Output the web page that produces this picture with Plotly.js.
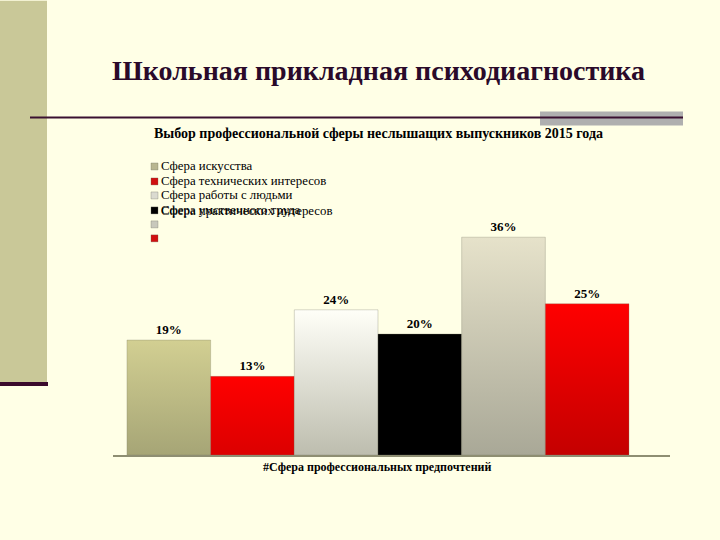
<!DOCTYPE html>
<html>
<head>
<meta charset="utf-8">
<script src="https://cdn.plot.ly/plotly-3.0.1.min.js"></script>
<style>
  html, body { margin: 0; padding: 0; background: #FFFFE6; }
  #chart { width: 720px; height: 540px; }
</style>
</head>
<body>
<div id="chart"></div>
<script>
// ---- data ----
const categories = [
  "Сфера искусства",
  "Сфера технических интересов",
  "Сфера работы с людьми",
  "Сфера умственного труда",
  "Сфера практических интересов",
  ""
];
const legendLabels = [
  "Сфера искусства",
  "Сфера технических интересов",
  "Сфера работы с людьми",
  "Сфера умственного труда",
  "",
  ""
];
const overlapLabel = "Сфера практических интересов";
const values = [19, 13, 24, 20, 36, 25];
const positions = [0, 1, 2, 3, 4, 5];
const slideTitle = "Школьная прикладная психодиагностика";
const chartTitle = "Выбор профессиональной сферы неслышащих выпускников 2015 года";
const axisTitle = "#Сфера профессиональных предпочтений";

// ---- styles ----
const solidColors = ["#BDBB86", "#F00000", "#E2E2D6", "#000000", "#CDCBB8", "#E80000"];
const gradTop =    ["#D2CF92", "#FF0000", "#FFFFF8", "#000000", "#E6E2CA", "#FF0000"];
const gradBottom = ["#A6A576", "#DC0000", "#BDBDAE", "#000000", "#A9A897", "#C40000"];
const swatchColors = ["#B8B690", "#D01010", "#DADAD0", "#000000", "#C8C8BC", "#D01010"];
const serif = "Liberation Serif, Times New Roman, serif";

const traces = positions.map((p, i) => ({
  type: "bar",
  x: [p],
  y: [values[i]],
  name: categories[i] || " ",
  width: 1,
  marker: { color: solidColors[i], line: { color: "rgba(120,120,100,0.5)", width: 0.6 } },
  text: [values[i] + "%"],
  textposition: "outside",
  cliponaxis: false,
  textfont: { family: serif, size: 13, color: "#000000", weight: "bold" },
  hoverinfo: "skip",
  showlegend: false
}));

const H = 242.4, W = 557;
const py = yy => (455 - yy) / H;
const px = xx => (xx - 113) / W;

const shapes = [
  { type: "rect", xref: "paper", yref: "paper", x0: px(0), x1: px(47), y0: py(383), y1: py(0),
    fillcolor: "#C9C898", line: { width: 0 }, layer: "below" },
  { type: "rect", xref: "paper", yref: "paper", x0: px(0), x1: px(48), y0: py(386), y1: py(382),
    fillcolor: "#3A0A2C", line: { width: 0 } },
  { type: "rect", xref: "paper", yref: "paper", x0: px(540), x1: px(683), y0: py(125), y1: py(111),
    fillcolor: "#AFAFAF", line: { width: 0 } },
  { type: "line", xref: "paper", yref: "paper", x0: px(30), x1: px(683), y0: py(117), y1: py(117),
    line: { color: "#3A1030", width: 2 } }
];

const legendRowsY = [166, 181, 195, 210, 224, 238];
const annotations = [
  { text: "<b>" + slideTitle + "</b>", xref: "paper", yref: "paper", x: px(378), y: py(70),
    showarrow: false, font: { family: serif, size: 28, color: "#2A0A2A" }, xanchor: "center", yanchor: "middle" },
  { text: "<b>" + chartTitle + "</b>", xref: "paper", yref: "paper", x: px(378), y: py(133),
    showarrow: false, font: { family: serif, size: 14, color: "#000000" }, xanchor: "center", yanchor: "middle" },
  { text: "<b>" + axisTitle + "</b>", xref: "x", yref: "paper", x: 2.5, y: py(467),
    showarrow: false, font: { family: serif, size: 12, color: "#000000" }, xanchor: "center", yanchor: "middle" }
];

legendRowsY.forEach((yy, i) => {
  shapes.push({ type: "rect", xref: "paper", yref: "paper",
    x0: px(151), x1: px(158), y0: py(yy + 3.5), y1: py(yy - 3.5),
    fillcolor: swatchColors[i], line: { color: "rgba(100,100,90,0.6)", width: 0.5 } });
  if (legendLabels[i]) {
    annotations.push({ text: legendLabels[i], xref: "paper", yref: "paper", x: px(159), y: py(yy),
      showarrow: false, font: { family: serif, size: 12.8, color: "#000000" }, xanchor: "left", yanchor: "middle" });
  }
});
annotations.push({ text: overlapLabel, xref: "paper", yref: "paper", x: px(159), y: py(211),
  showarrow: false, font: { family: serif, size: 12.8, color: "#000000" }, xanchor: "left", yanchor: "middle" });

const layout = {
  width: 720, height: 540,
  paper_bgcolor: "#FFFFE6", plot_bgcolor: "rgba(0,0,0,0)",
  margin: { l: 113, r: 50, t: 212.6, b: 85 },
  barmode: "overlay",
  showlegend: false,
  xaxis: { range: [-0.667, 5.99], showticklabels: false, ticks: "", showgrid: false, zeroline: false,
           showline: true, linecolor: "#8E8E72", linewidth: 1.5, fixedrange: true },
  yaxis: { range: [0, 40], visible: false, showgrid: false, zeroline: false, fixedrange: true },
  shapes: shapes,
  annotations: annotations
};

Plotly.newPlot("chart", traces, layout, { displayModeBar: false, staticPlot: true }).then(gd => {
  const svg = gd.querySelector(".main-svg");
  const ns = "http://www.w3.org/2000/svg";
  let defs = svg.querySelector("defs");
  if (!defs) { defs = document.createElementNS(ns, "defs"); svg.insertBefore(defs, svg.firstChild); }
  gradTop.forEach((c, i) => {
    const g = document.createElementNS(ns, "linearGradient");
    g.setAttribute("id", "barGrad" + i);
    g.setAttribute("x1", "0"); g.setAttribute("y1", "0"); g.setAttribute("x2", "0"); g.setAttribute("y2", "1");
    const s1 = document.createElementNS(ns, "stop"); s1.setAttribute("offset", "0"); s1.setAttribute("stop-color", c);
    const s2 = document.createElementNS(ns, "stop"); s2.setAttribute("offset", "1"); s2.setAttribute("stop-color", gradBottom[i]);
    g.appendChild(s1); g.appendChild(s2); defs.appendChild(g);
  });
  gd.querySelectorAll("g.trace.bars").forEach((t, i) => {
    t.querySelectorAll("g.point path").forEach(p => { p.style.fill = "url(#barGrad" + i + ")"; });
  });
});
</script>
</body>
</html>
